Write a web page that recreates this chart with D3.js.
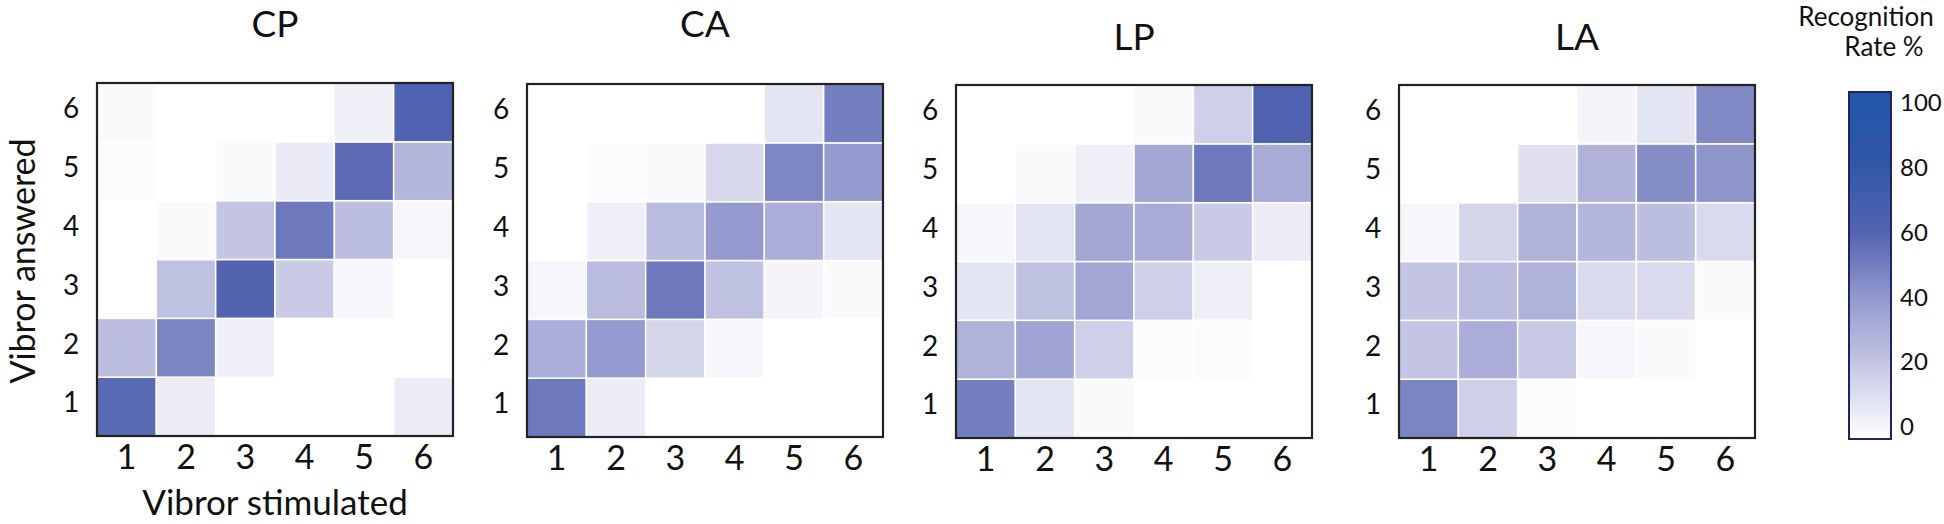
<!DOCTYPE html>
<html>
<head>
<meta charset="utf-8">
<script src="https://cdn.jsdelivr.net/npm/d3@7"></script>
<style>
  body { margin: 0; background: #fff; }
  text { font-family: Lato, "Open Sans", sans-serif; fill: #111; }
</style>
</head>
<body>
<div class="chart-wrapper"></div>
<script>
// vibror numbers on both axes
const stimulated = [1, 2, 3, 4, 5, 6]
const answered = [1, 2, 3, 4, 5, 6]
const conditions = ['CP', 'CA', 'LP', 'LA']

// recognition rate %, one row per answered vibror (1 at the bottom), columns = stimulated 1..6
const cpRates = [
  [58, 7, 0, 0, 0, 7],
  [25, 48, 6, 0, 0, 0],
  [0, 24, 60, 20, 3, 0],
  [0, 2, 22, 52, 25, 3],
  [1, 0, 2, 8, 57, 28],
  [2, 0, 0, 0, 6, 61]
]
const caRates = [
  [52, 7, 0, 0, 0, 0],
  [32, 40, 16, 3, 0, 0],
  [3, 26, 52, 24, 4, 2],
  [0, 6, 26, 40, 32, 10],
  [0, 1, 2, 15, 47, 40],
  [0, 0, 0, 0, 10, 50]
]
const lpRates = [
  [50, 10, 2, 0, 0, 0],
  [30, 36, 18, 1, 1, 0],
  [10, 24, 35, 18, 6, 0],
  [3, 10, 35, 33, 20, 7],
  [0, 2, 6, 35, 52, 33],
  [0, 0, 0, 2, 18, 62]
]
const laRates = [
  [48, 18, 1, 0, 0, 0],
  [22, 32, 20, 3, 2, 0],
  [22, 26, 30, 14, 14, 2],
  [3, 16, 30, 28, 25, 14],
  [0, 0, 12, 30, 45, 42],
  [0, 0, 0, 4, 10, 46]
]
const legendTicks = [0, 20, 40, 60, 80, 100]

const rates = [cpRates, caRates, lpRates, laRates]

const width = 1944
const height = 524

// panel frames (left, top) - all the same size
const panelX = [97, 527, 956, 1399]
const panelY = [83, 84, 85, 85]
const titleY = [37, 37, 50, 50]
const panelW = 356
const panelH = 353

const colorStops = ['#ffffff', '#c9cae6', '#959bce', '#5363b0', '#3056a6', '#2156a8']
let color = d3.scaleLinear()
  .domain([0, 20, 40, 60, 80, 100])
  .range(colorStops)
  .interpolate(d3.interpolateRgb)

let svg = d3.select('.chart-wrapper')
  .append('svg')
  .attr('width', width)
  .attr('height', height)

conditions.forEach((name, p) => {

  let x = d3.scaleBand().domain(stimulated).range([0, panelW])
  let y = d3.scaleBand().domain(answered).range([panelH, 0])

  let g = svg.append('g')
    .attr('transform', 'translate(' + panelX[p] + ',' + panelY[p] + ')')

  let cells = []
  rates[p].forEach((row, i) => row.forEach((v, j) => cells.push({ a: answered[i], s: stimulated[j], v: v })))

  g.selectAll('rect.cell')
    .data(cells)
    .enter()
    .append('rect')
    .attr('class', 'cell')
    .attr('x', d => x(d.s))
    .attr('y', d => y(d.a))
    .attr('width', x.bandwidth())
    .attr('height', y.bandwidth())
    .attr('fill', d => color(d.v))
    .attr('stroke', '#fff')
    .attr('stroke-width', 1.5)

  g.append('rect')
    .attr('width', panelW)
    .attr('height', panelH)
    .attr('fill', 'none')
    .attr('stroke', '#222')
    .attr('stroke-width', 2.2)

  // x ticks
  g.append('g')
    .attr('transform', 'translate(0,' + panelH + ')')
    .call(d3.axisBottom(x).tickSize(0).tickPadding(10))
    .call(a => a.select('.domain').remove())
    .selectAll('text')
    .attr('dy', null)
    .attr('y', 33)
    .style('font-size', '34px')
    .style('font-family', 'Lato, sans-serif')
    .attr('fill', '#111')

  // y ticks
  g.append('g')
    .call(d3.axisLeft(y).tickSize(0).tickPadding(0))
    .call(a => a.select('.domain').remove())
    .selectAll('text')
    .attr('text-anchor', 'middle')
    .attr('x', -26)
    .attr('dy', '0.35em')
    .attr('y', -4)
    .style('font-size', '28px')
    .style('font-family', 'Lato, sans-serif')
    .attr('fill', '#111')

  svg.append('text')
    .attr('x', panelX[p] + panelW / 2)
    .attr('y', titleY[p])
    .attr('text-anchor', 'middle')
    .style('font-size', '37px')
    .text(name)
})

svg.append('text')
  .attr('x', panelX[0] + panelW / 2)
  .attr('y', 515)
  .attr('text-anchor', 'middle')
  .style('font-size', '35px')
  .text('Vibror stimulated')

svg.append('text')
  .attr('transform', 'translate(35,261) rotate(-90)')
  .attr('text-anchor', 'middle')
  .style('font-size', '34px')
  .text('Vibror answered')

// colour legend
const barX = 1849
const barW = 42
const barTop = 92
const barBottom = 439

let defs = svg.append('defs')
let grad = defs.append('linearGradient')
  .attr('id', 'rateGrad')
  .attr('x1', 0).attr('y1', 1)
  .attr('x2', 0).attr('y2', 0)

d3.range(0, 101, 5).forEach(v => {
  grad.append('stop')
    .attr('offset', v + '%')
    .attr('stop-color', color(v))
})

svg.append('rect')
  .attr('x', barX)
  .attr('y', barTop)
  .attr('width', barW)
  .attr('height', barBottom - barTop)
  .attr('fill', 'url(#rateGrad)')
  .attr('stroke', '#22235e')
  .attr('stroke-width', 2)

let legendY = d3.scaleLinear().domain([0, 100]).range([427, 103])

svg.append('g')
  .attr('transform', 'translate(' + (barX + barW) + ',0)')
  .call(d3.axisRight(legendY).tickValues(legendTicks).tickSize(0).tickPadding(9))
  .call(a => a.select('.domain').remove())
  .selectAll('text')
  .style('font-size', '24px')
  .style('font-family', 'Lato, sans-serif')
  .attr('fill', '#111')

svg.append('text')
  .attr('x', 1866)
  .attr('y', 26)
  .attr('text-anchor', 'middle')
  .style('font-size', '26px')
  .text('Recognition')

svg.append('text')
  .attr('x', 1884)
  .attr('y', 56)
  .attr('text-anchor', 'middle')
  .style('font-size', '26px')
  .text('Rate %')
</script>
</body>
</html>
